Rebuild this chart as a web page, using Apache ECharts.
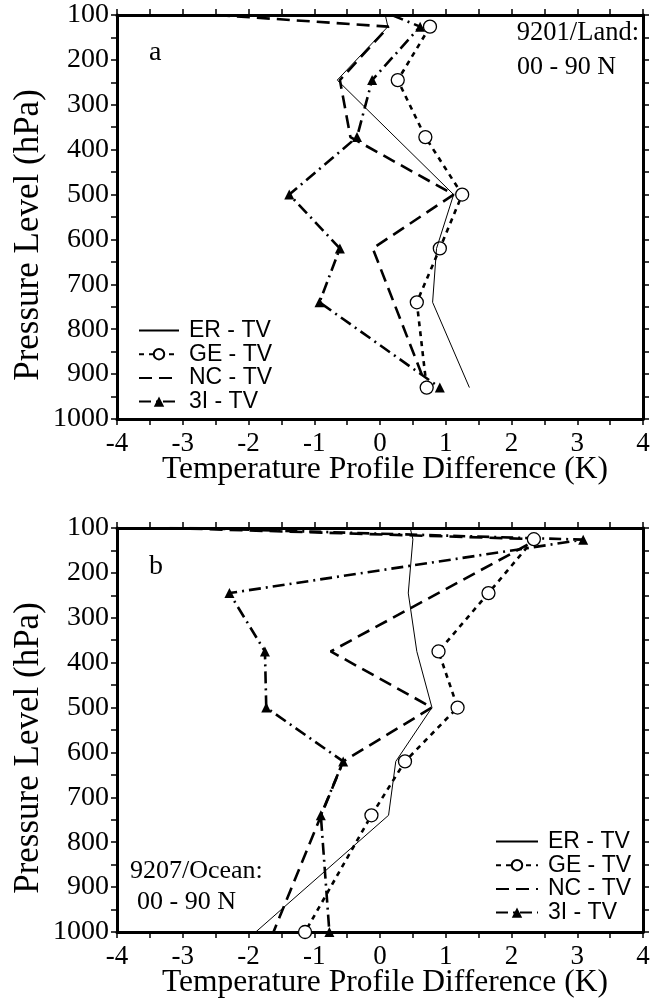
<!DOCTYPE html>
<html>
<head>
<meta charset="utf-8">
<script src="https://cdn.jsdelivr.net/npm/echarts@6/dist/echarts.min.js"></script>
<style>
  html, body { margin: 0; padding: 0; background: #fff; }
  #chart { width: 655px; height: 1006px; }
</style>
</head>
<body>
<div id="chart"></div>
<script>
// tick labels
const xTicks = [-4, -3, -2, -1, 0, 1, 2, 3, 4];
const pTicks = [100, 200, 300, 400, 500, 600, 700, 800, 900, 1000];
const seriesNames = ['ER - TV', 'GE - TV', 'NC - TV', '3I - TV'];

// panel a : 9201 / Land
const erA_p = [100, 126, 245, 500, 620, 740, 930];
const erA_t = [0.08, 0.12, -0.65, 1.12, 0.86, 0.80, 1.36];
const geA_p = [126, 245, 372, 500, 620, 740, 930];
const geA_t = [0.76, 0.27, 0.69, 1.25, 0.91, 0.56, 0.71];
const ncA_p = [100, 126, 245, 372, 500, 620, 925];
const ncA_t = [-2.48, 0.13, -0.61, -0.45, 1.12, -0.11, 0.70];
const tiA_p = [100, 126, 245, 372, 500, 620, 740, 930];
const tiA_t = [0.18, 0.61, -0.12, -0.35, -1.38, -0.61, -0.92, 0.91];

// panel b : 9207 / Ocean
const erB_p = [100, 125, 245, 375, 500, 620, 740, 1000];
const erB_t = [0.46, 0.50, 0.43, 0.56, 0.79, 0.24, 0.13, -1.89];
const geB_p = [125, 245, 375, 500, 620, 740, 1000];
const geB_t = [2.34, 1.65, 0.89, 1.18, 0.38, -0.13, -1.14];
const ncB_p = [100, 125, 375, 500, 620, 1000];
const ncB_t = [-3.2, 2.4, -0.75, 0.79, -0.56, -1.62];
const tiB_p = [100, 126, 245, 375, 500, 620, 740, 1000];
const tiB_t = [-2.9, 3.09, -2.29, -1.75, -1.73, -0.56, -0.90, -0.77];

const serif = 'Liberation Serif';
const sans = 'Liberation Sans';

// [t, p] pairs; points on the 100 hPa top edge get no marker
function pairs(t, p) {
    return t.map((v, i) => p[i] === 100 ? { value: [v, p[i]], symbol: 'none' } : [v, p[i]]);
}

function xAxisFor(grid, pos, labels) {
    return {
        type: 'value', gridIndex: grid, position: pos,
        min: -4, max: 4, interval: 0.5,
        splitLine: { show: false },
        axisLine: { show: true, onZero: false, lineStyle: { color: '#000', width: 3 } },
        axisTick: { show: true, inside: false, length: 6, lineStyle: { color: '#000', width: 1.5 } },
        axisLabel: {
            show: labels, margin: 11, color: '#000', fontFamily: serif, fontSize: 27,
            formatter: v => xTicks.indexOf(v) >= 0 ? String(v) : ''
        }
    };
}

function yAxisFor(grid, pos, labels) {
    return {
        type: 'value', gridIndex: grid, position: pos, inverse: true,
        min: 100, max: 1000, interval: 50,
        splitLine: { show: false },
        axisLine: { show: true, onZero: false, lineStyle: { color: '#000', width: 3 } },
        axisTick: { show: true, inside: false, length: 6, lineStyle: { color: '#000', width: 1.5 } },
        axisLabel: {
            show: labels, margin: 8, color: '#000', fontFamily: serif, fontSize: 28,
            formatter: v => pTicks.indexOf(v) >= 0 ? String(v) : ''
        }
    };
}

const noMark = { color: 'rgba(0,0,0,0)', borderWidth: 0 };

// one set of four series for a panel
function panelSeries(k, er, ge, nc, ti) {
    return [
        {
            name: seriesNames[0], type: 'line', xAxisIndex: k * 2, yAxisIndex: k * 2,
            data: er, symbol: 'none', z: 4, itemStyle: noMark,
            lineStyle: { color: '#000', width: 1, type: 'solid' }
        },
        {
            name: seriesNames[1], type: 'line', xAxisIndex: k * 2, yAxisIndex: k * 2,
            data: ge, symbol: 'circle', symbolSize: 13, showSymbol: true, z: 3,
            itemStyle: { color: '#fff', borderColor: '#000', borderWidth: 1.3 },
            lineStyle: { color: '#000', width: 2.6, type: [5, 5] }
        },
        {
            name: seriesNames[2], type: 'line', xAxisIndex: k * 2, yAxisIndex: k * 2,
            data: nc, symbol: 'none', z: 2, itemStyle: noMark,
            lineStyle: { color: '#000', width: 2.6, type: [13, 7] }
        },
        {
            name: seriesNames[3], type: 'line', xAxisIndex: k * 2, yAxisIndex: k * 2,
            data: ti, symbol: 'triangle', symbolSize: 10, showSymbol: true, z: 2,
            itemStyle: { color: '#000' },
            lineStyle: { color: '#000', width: 2.6, type: [12, 5, 2, 5] }
        }
    ];
}

function legendFor(left, top, w) {
    return {
        orient: 'vertical', left: left, top: top,
        data: seriesNames,
        itemWidth: w, itemHeight: 13, itemGap: 0.7,
        selectedMode: false,
        textStyle: { fontFamily: sans, fontSize: 23, lineHeight: 23, color: '#000', padding: [0, 0, 0, 5] }
    };
}

function label(text, x, y, size, align, rot) {
    return {
        type: 'text', x: x, y: y, rotation: rot || 0,
        style: {
            text: text, fill: '#000', font: size + 'px "' + serif + '"',
            textAlign: align || 'left', textVerticalAlign: 'middle'
        }
    };
}

const option = {
    animation: false,
    backgroundColor: '#fff',
    grid: [
        { left: 117, top: 15, width: 526, height: 404 },
        { left: 117, top: 528, width: 526, height: 404 }
    ],
    xAxis: [
        xAxisFor(0, 'bottom', true), xAxisFor(0, 'top', false),
        xAxisFor(1, 'bottom', true), xAxisFor(1, 'top', false)
    ],
    yAxis: [
        yAxisFor(0, 'left', true), yAxisFor(0, 'right', false),
        yAxisFor(1, 'left', true), yAxisFor(1, 'right', false)
    ],
    legend: [legendFor(133, 314, 40), legendFor(490, 825, 42)],
    graphic: [
        label('Pressure Level (hPa)', 29, 235, 35, 'center', Math.PI / 2),
        label('Temperature Profile Difference (K)', 385, 470, 31.5, 'center'),
        label('Pressure Level (hPa)', 29, 748, 35, 'center', Math.PI / 2),
        label('Temperature Profile Difference (K)', 385, 983, 31.5, 'center'),
        label('a', 149, 53, 28),
        label('9201/Land:', 639, 33, 26.5, 'right'),
        label('00 - 90 N', 517, 67, 26),
        label('b', 149, 567, 28),
        label('9207/Ocean:', 130, 871, 26),
        label('00 - 90 N', 137, 902, 26)
    ],
    series: [].concat(
        panelSeries(0, pairs(erA_t, erA_p), pairs(geA_t, geA_p), pairs(ncA_t, ncA_p), pairs(tiA_t, tiA_p)),
        panelSeries(1, pairs(erB_t, erB_p), pairs(geB_t, geB_p), pairs(ncB_t, ncB_p), pairs(tiB_t, tiB_p))
    )
};

const chart = echarts.init(document.getElementById('chart'), null, { renderer: 'canvas' });
chart.setOption(option);
</script>
</body>
</html>
